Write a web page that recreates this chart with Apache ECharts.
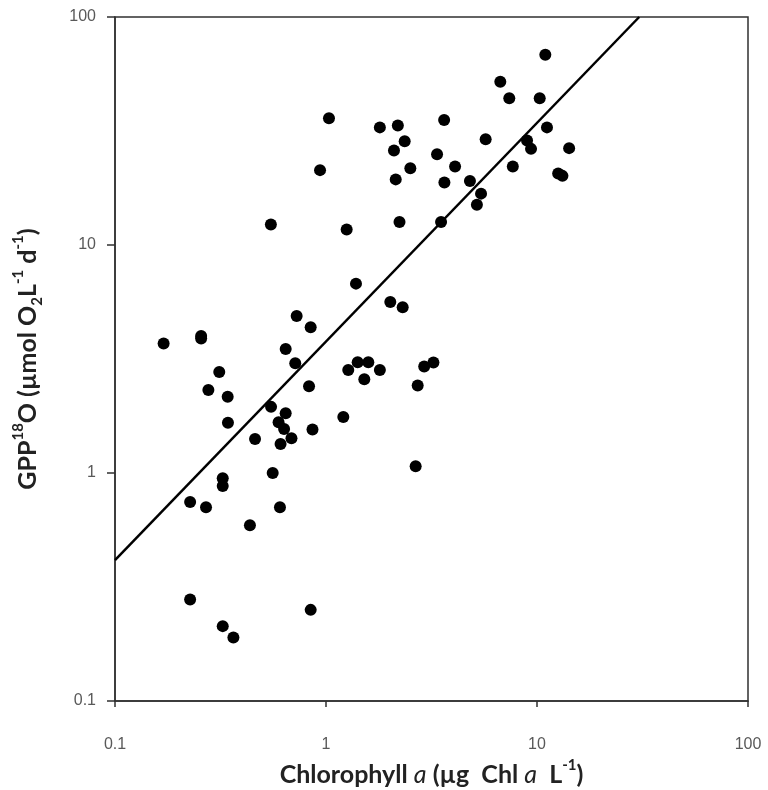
<!DOCTYPE html>
<html>
<head>
<meta charset="utf-8">
<script src="https://cdn.jsdelivr.net/npm/echarts@6/dist/echarts.min.js"></script>
<style>
html,body{margin:0;padding:0;background:#fff;}
#chart{width:768px;height:790px;}
</style>
</head>
<body>
<div id="chart"></div>
<script>
// Chlorophyll a (µg Chl a L-1)
var chlA = [
  0.17, 0.256, 0.256, 0.277, 0.312, 0.342, 0.343, 0.227, 0.270, 0.324,
  0.324, 0.436, 0.461, 0.549, 0.559, 0.548, 0.644, 0.715, 0.726, 0.846,
  0.644, 0.596, 0.633, 0.686, 0.609, 0.831, 0.863, 0.605, 0.846, 0.227,
  0.324, 0.364, 0.937, 1.033, 1.208, 1.253, 1.275, 1.413, 1.587, 1.80,
  1.519, 1.387, 2.017, 2.309, 2.72, 2.92, 3.23, 2.66, 1.80, 2.19,
  2.36, 2.10, 2.51, 2.14, 2.23, 3.36, 3.63, 3.64, 3.51, 4.09,
  5.71, 4.81, 5.43, 5.19, 6.70, 7.39, 7.68, 8.97, 9.37, 10.3,
  10.95, 11.15, 14.2, 12.6, 13.2
];
// GPP18O (µmol O2 L-1 d-1)
var gpp = [
  3.70, 3.99, 3.89, 2.31, 2.77, 2.16, 1.66, 0.746, 0.707, 0.948,
  0.877, 0.590, 1.41, 1.95, 1.00, 12.3, 3.50, 3.03, 4.88, 4.36,
  1.83, 1.67, 1.56, 1.42, 1.34, 2.40, 1.55, 0.707, 0.251, 0.279,
  0.213, 0.190, 21.3, 36.0, 1.76, 11.7, 2.83, 3.06, 3.06, 2.83,
  2.58, 6.77, 5.62, 5.33, 2.42, 2.93, 3.05, 1.07, 32.8, 33.4,
  28.5, 26.0, 21.7, 19.4, 12.6, 25.0, 35.3, 18.8, 12.6, 22.1,
  29.1, 19.1, 16.8, 15.0, 52.0, 44.0, 22.1, 28.7, 26.4, 44.0,
  68.3, 32.8, 26.6, 20.6, 20.1
];
// regression line end points (chl a, GPP)
var fitX = [0.1, 30.5];
var fitY = [0.415, 100];
// tick labels
var tickLabels = ['0.1', '1', '10', '100'];

var points = chlA.map(function (x, i) { return [x, gpp[i]]; });
var fitLine = fitX.map(function (x, i) { return [x, fitY[i]]; });

function fmt(v) {
  for (var i = 0; i < tickLabels.length; i++) {
    if (Math.abs(parseFloat(tickLabels[i]) - v) < 1e-9 * Math.max(1, v)) return tickLabels[i];
  }
  return '';
}

var titleFont = 'Lato, "Open Sans", sans-serif';
var labelStyle = { color: '#595959', fontSize: 16, fontFamily: '"Liberation Sans", Arial, sans-serif' };
var FS = 25, SFS = 15, LH = 34;

var chart = echarts.init(document.getElementById('chart'), null, { renderer: 'canvas' });
chart.setOption({
  animation: false,
  backgroundColor: '#fff',
  grid: {
    left: 115, top: 17, width: 633, height: 684,
    outerBoundsMode: 'none', containLabel: false,
    show: true, borderColor: '#303030', borderWidth: 1.5, backgroundColor: 'transparent'
  },
  xAxis: {
    type: 'log', logBase: 10, min: 0.1, max: 100,
    axisLine: { show: true, onZero: false, lineStyle: { color: '#303030', width: 1.5 } },
    axisTick: { show: true, inside: false, length: 6, lineStyle: { color: '#303030', width: 1.5 } },
    minorTick: { show: false },
    splitLine: { show: false },
    axisLabel: Object.assign({ margin: 36, formatter: fmt }, labelStyle),
    name: '{b|Chlorophyll }{i|a}{b| (µg  Chl }{i|a}{b|  L}{sup|-1}{b|)}',
    nameLocation: 'middle',
    nameGap: 55,
    nameTextStyle: {
      rich: {
        b: { fontFamily: titleFont, fontWeight: 'bold', fontSize: FS, color: '#222', lineHeight: LH },
        i: { fontFamily: titleFont, fontStyle: 'italic', fontSize: FS, color: '#222', lineHeight: LH },
        sup: { fontFamily: titleFont, fontWeight: 'bold', fontSize: SFS, color: '#222', verticalAlign: 'top', lineHeight: 17 }
      }
    }
  },
  yAxis: {
    type: 'log', logBase: 10, min: 0.1, max: 100,
    axisLine: { show: true, onZero: false, lineStyle: { color: '#303030', width: 1.5 } },
    axisTick: { show: true, inside: false, length: 8, lineStyle: { color: '#303030', width: 1.5 } },
    minorTick: { show: false },
    splitLine: { show: false },
    axisLabel: Object.assign({ margin: 19, formatter: fmt }, labelStyle),
    name: '{b|GPP}{sup|18}{b|O (µmol O}{sub|2}{b|L}{sup|-1}{b| d}{sup|-1}{b|)}',
    nameLocation: 'middle',
    nameRotate: 90,
    nameGap: 70,
    nameTextStyle: {
      rich: {
        b: { fontFamily: titleFont, fontWeight: 'bold', fontSize: FS, color: '#222', lineHeight: LH },
        sup: { fontFamily: titleFont, fontWeight: 'bold', fontSize: SFS, color: '#222', verticalAlign: 'top', lineHeight: 17 },
        sub: { fontFamily: titleFont, fontWeight: 'bold', fontSize: SFS, color: '#222', verticalAlign: 'bottom', lineHeight: 17 }
      }
    }
  },
  series: [
    {
      type: 'line',
      data: fitLine,
      showSymbol: false,
      symbol: 'none',
      lineStyle: { color: '#000', width: 2.5 },
      z: 2,
      silent: true
    },
    {
      type: 'scatter',
      data: points,
      symbol: 'circle',
      symbolSize: 12,
      itemStyle: { color: '#000', opacity: 1 },
      z: 3
    }
  ]
});
</script>
</body>
</html>
